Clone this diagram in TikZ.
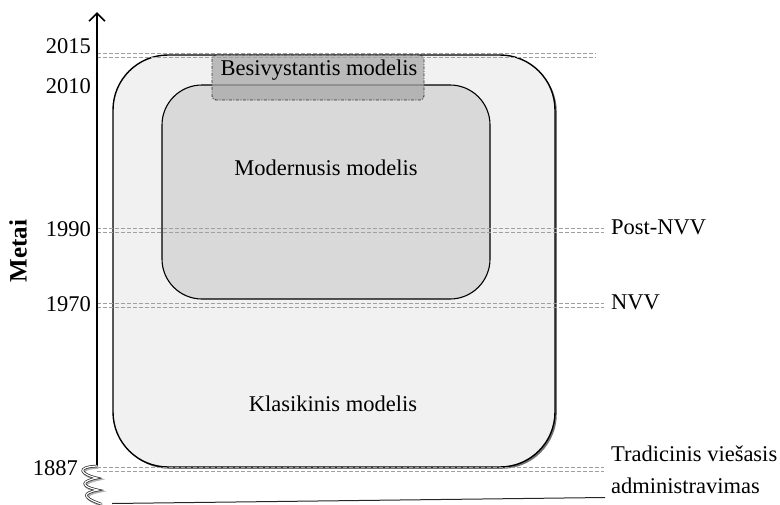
\documentclass[tikz,border=0pt]{standalone}
\usepackage{fontspec}
\setmainfont{Liberation Serif}
\usetikzlibrary{arrows.meta,shadows}
\definecolor{outerfill}{HTML}{F1F1F1}
\definecolor{innerfill}{HTML}{D9D9D9}
\definecolor{newfill}{HTML}{A8A8A8}
\begin{document}
\begin{tikzpicture}[x=1pt,y=-1pt,
  txt/.style={font=\fontsize{22.5}{32}\selectfont, inner sep=0pt},
  yearlbl/.style={txt, anchor=east},
  sidelbl/.style={txt, anchor=west, align=left},
  gridline/.style={draw=gray!75, line width=0.8pt, dash pattern=on 4pt off 2pt},
  modelbox/.style={draw=black, line width=1.4pt},
]
\useasboundingbox (0,0) rectangle (780,504);

% model areas
\node[modelbox, fill=outerfill, rounded corners=55pt, minimum width=442pt, minimum height=412pt,
      drop shadow={shadow xshift=1.8pt, shadow yshift=-1.8pt, opacity=0.55, fill=black}]
  (classic) at (334,261) {};
\node[modelbox, line width=1.1pt, fill=innerfill, rounded corners=40pt, minimum width=328pt, minimum height=214pt]
  (modern) at (326,192) {};
\node[draw=black!80, line width=0.9pt, dash pattern=on 3pt off 1.5pt on 1pt off 1.5pt,
      fill=newfill, fill opacity=0.75, rounded corners=4pt, minimum width=212pt, minimum height=45pt]
  (emerging) at (318,77.5) {};

\node[txt] (tEmerging) at (319,70) {Besivystantis modelis};
\node[txt] (tModern) at (326,168) {Modernusis modelis};
\node[txt] (tClassic) at (333,404) {Klasikinis modelis};

% year labels
\node[yearlbl] (y2015) at (91,46) {2015};
\node[yearlbl] (y2010) at (91,86) {2010};
\node[yearlbl] (y1990) at (91,229) {1990};
\node[yearlbl] (y1970) at (91,304) {1970};
\node[yearlbl] (y1887) at (78,468) {1887};
\node[txt, font=\fontsize{25}{28}\selectfont\bfseries, rotate=90] (axisname) at (18,251) {Metai};

% side labels
\node[sidelbl] (pnvv) at (611,227) {Post-NVV};
\node[sidelbl] (nvv) at (611,302) {NVV};
\node[sidelbl] (trad) at (611,470) {Tradicinis viešasis\\administravimas};

% period lines
\foreach \yy/\xe in {53/596,228/604,303/604,467/604}{
  \draw[gridline] (97,\yy) -- (\xe,\yy);
  \draw[gridline] (97,\yy+4) -- (\xe,\yy+4);
}

% time axis
\coordinate (axisbase) at (97,466);
\coordinate (axistop) at (97,12);
\draw[line width=1.8pt, -{Straight Barb[length=8pt,width=16pt,line width=1.6pt]}] (axisbase) -- (axistop);

% broken-axis squiggle
\def\squiggle{(97,466) .. controls (76,467) and (80,474) .. (97,478)
  .. controls (82,481) and (79,486) .. (98,490)
  .. controls (83,493) and (81,497) .. (101,504)}
\draw[gray!60, line width=3.2pt, xshift=1.2pt, yshift=-1.2pt] \squiggle;
\draw[black!85, line width=0.7pt, double=white, double distance=1.2pt] \squiggle;

% base line
\coordinate (baseL) at (112,503.5);
\coordinate (baseR) at (605,497.5);
\draw[black!85, line width=1pt] (baseL) -- (baseR);
\end{tikzpicture}
\end{document}
